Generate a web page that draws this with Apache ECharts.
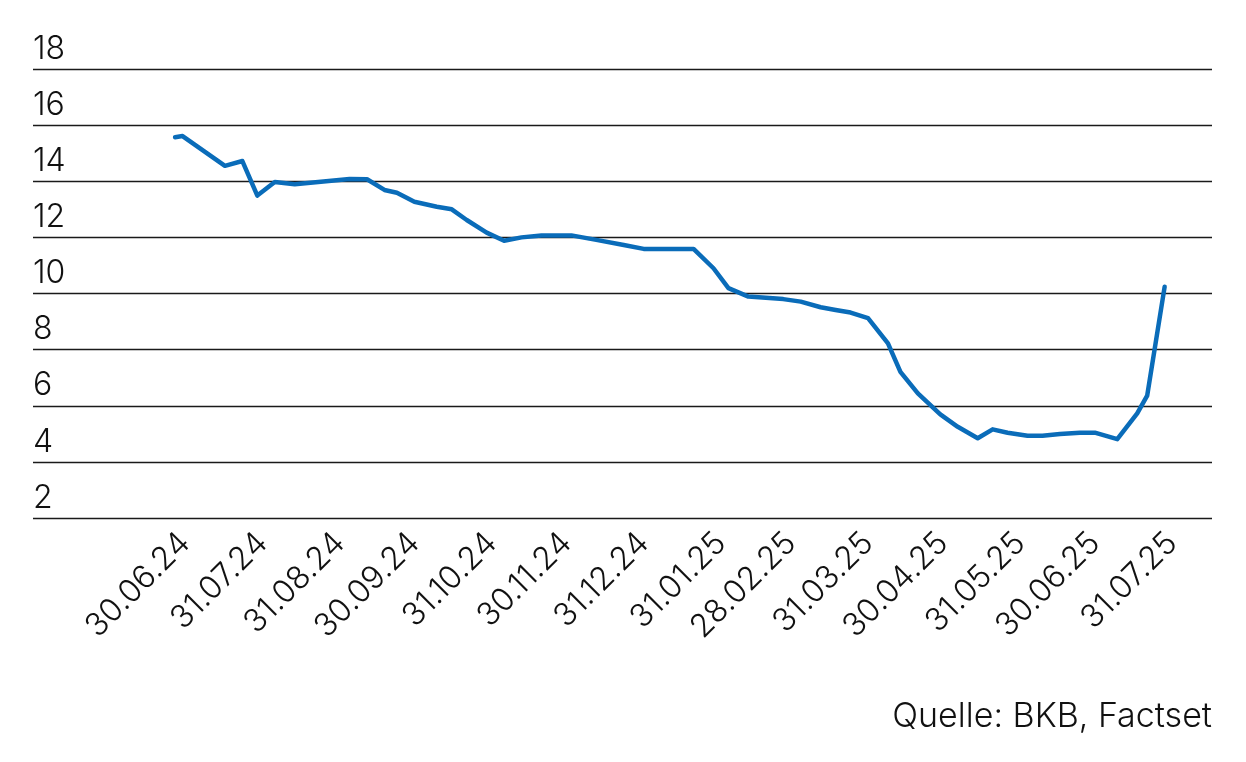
<!DOCTYPE html>
<html>
<head>
<meta charset="utf-8">
<script src="https://cdn.jsdelivr.net/npm/echarts@6/dist/echarts.min.js"></script>
<style>
html, body { margin: 0; padding: 0; background: #ffffff; }
#chart { width: 1246px; height: 762px; }
</style>
</head>
<body>
<div id="chart"></div>
<script>
// ---- Data ----
const dates = [
  '2024-06-26', '2024-06-29', '2024-07-16', '2024-07-23', '2024-07-29', '2024-08-05',
  '2024-08-13', '2024-09-04', '2024-09-11', '2024-09-18', '2024-09-23', '2024-09-30',
  '2024-10-09', '2024-10-15', '2024-10-21', '2024-10-29', '2024-11-05', '2024-11-12',
  '2024-11-20', '2024-12-02', '2024-12-12', '2024-12-23', '2024-12-31', '2025-01-20',
  '2025-01-28', '2025-02-03', '2025-02-11', '2025-02-25', '2025-03-04', '2025-03-12',
  '2025-03-18', '2025-03-24', '2025-03-31', '2025-04-08', '2025-04-13', '2025-04-20',
  '2025-04-29', '2025-05-06', '2025-05-14', '2025-05-20', '2025-05-26', '2025-06-03',
  '2025-06-09', '2025-06-16', '2025-06-24', '2025-06-30', '2025-07-09', '2025-07-17',
  '2025-07-21', '2025-07-28'
];
const values = [
  15.57, 15.61, 14.55, 14.72, 13.49, 13.97,
  13.89, 14.08, 14.07, 13.69, 13.59, 13.27,
  13.09, 13.00, 12.62, 12.17, 11.88, 12.00,
  12.07, 12.07, 11.91, 11.73, 11.59, 11.59,
  10.90, 10.19, 9.89, 9.80, 9.71, 9.51,
  9.41, 9.32, 9.12, 8.22, 7.21, 6.44,
  5.69, 5.25, 4.84, 5.16, 5.04, 4.93,
  4.93, 4.99, 5.04, 5.04, 4.81, 5.73,
  6.36, 10.24
];
const tickDates = [
  '2024-06-30', '2024-07-31', '2024-08-31', '2024-09-30', '2024-10-31', '2024-11-30',
  '2024-12-31', '2025-01-31', '2025-02-28', '2025-03-31', '2025-04-30', '2025-05-31',
  '2025-06-30', '2025-07-31'
];
const xRange = ['2024-04-30', '2025-08-16'];
const yTicks = { min: 2, max: 18, step: 2 };
const sourceText = 'Quelle: BKB, Factset';

// ---- helpers: x axis measured in days since the first tick date ----
const DAY = 86400000;
function utc(s) {
  const p = s.split('-').map(Number);
  return Date.UTC(p[0], p[1] - 1, p[2]);
}
const base = utc(tickDates[0]);
function toDay(s) { return Math.round((utc(s) - base) / DAY); }
function pad(n) { return (n < 10 ? '0' : '') + n; }
function fmt(v) {
  const d = new Date(base + Math.round(v) * DAY);
  return pad(d.getUTCDate()) + '.' + pad(d.getUTCMonth() + 1) + '.' + pad(d.getUTCFullYear() % 100);
}

const FONT = 'Inter';
const chart = echarts.init(document.getElementById('chart'), null, { renderer: 'canvas' });
chart.setOption({
  animation: false,
  backgroundColor: '#ffffff',
  grid: { left: 33, right: 34, top: 69, bottom: 244, containLabel: false },
  xAxis: {
    type: 'value',
    min: toDay(xRange[0]),
    max: toDay(xRange[1]),
    axisLine: { show: false },
    axisTick: { show: false },
    splitLine: { show: false },
    axisLabel: {
      customValues: tickDates.map(toDay),
      formatter: fmt,
      rotate: 45,
      margin: 20,
      hideOverlap: false,
      color: '#111111',
      fontFamily: FONT,
      fontWeight: 300,
      fontSize: 32
    }
  },
  yAxis: {
    type: 'value',
    min: yTicks.min,
    max: yTicks.max,
    interval: yTicks.step,
    axisLine: { show: false },
    axisTick: { show: false },
    splitLine: { show: true, lineStyle: { color: '#1a1a1a', width: 1.4 } },
    axisLabel: {
      inside: true,
      margin: 0,
      align: 'left',
      verticalAlign: 'bottom',
      padding: [0, 0, 4, 0],
      color: '#111111',
      fontFamily: FONT,
      fontWeight: 300,
      fontSize: 32
    }
  },
  graphic: [{
    type: 'text',
    right: 34,
    top: 700,
    style: {
      text: sourceText,
      fill: '#111111',
      font: '300 34px ' + FONT
    }
  }],
  series: [{
    type: 'line',
    data: dates.map((d, i) => [toDay(d), values[i]]),
    showSymbol: false,
    symbol: 'none',
    lineStyle: { color: '#0a6cb9', width: 4.5, join: 'round', cap: 'round' },
    itemStyle: { color: '#0a6cb9' }
  }]
});
</script>
</body>
</html>
